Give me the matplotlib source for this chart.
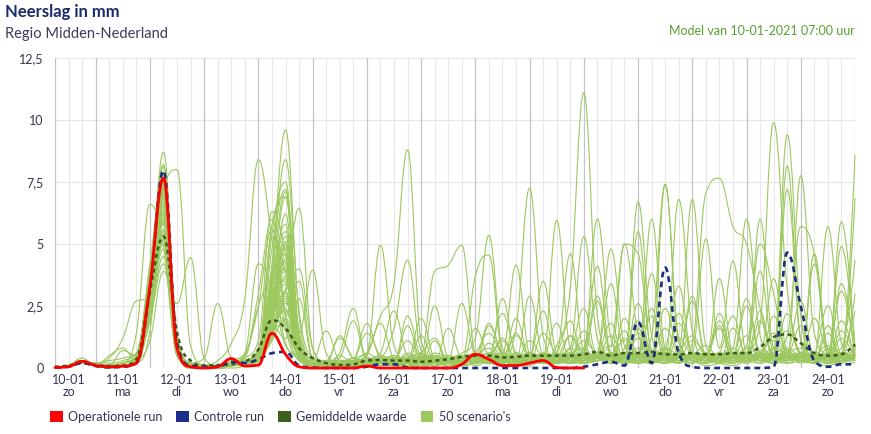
import matplotlib
matplotlib.use("Agg")
import matplotlib.pyplot as plt
from matplotlib.path import Path
from matplotlib.patches import PathPatch, Patch

plt.rcParams['font.family'] = ['Lato', 'DejaVu Sans']

# ---------------- data ----------------
hours = [6 + 6 * i for i in range(60)]          # hours after 10-01 00:00 (6-hourly steps)
day_dates = ["10-01", "11-01", "12-01", "13-01", "14-01", "15-01", "16-01", "17-01",
             "18-01", "19-01", "20-01", "21-01", "22-01", "23-01", "24-01"]
day_names = ["zo", "ma", "di", "wo", "do", "vr", "za", "zo", "ma", "di", "wo", "do", "vr", "za", "zo"]
yticks = [0, 2.5, 5, 7.5, 10, 12.5]
ytick_labels = ["0", "2,5", "5", "7,5", "10", "12,5"]

operational = [.02, .05, .27, .1, .05, .07, .2, 3.3, 7.65, .8,
               .05, 0, .05, .38, .08, .12, 1.4, .55, .05, 0,
               0, 0, 0, .08, 0, 0, 0, 0, 0, 0,
               .15, .55, .35, .1, .1, .2, .3, .02, 0, 0]

control = [.02, .05, .2, .08, .03, .05, .2, 3.2, 7.95, 1.0,
           .1, .05, .05, .25, .2, .35, .6, .65, .1, .02,
           0, 0, 0, .05, .15, .15, .02, 0, 0, 0,
           0, 0, 0, 0, 0, 0, 0, 0, 0, .05,
           .15, .25, .1, 1.85, .2, 4.05, .6, .05, 0, 0,
           0, 0, 0, .05, 4.65, 2.5, .3, .05, .15, .15]

mean = [.05, .1, .2, .12, .08, .1, .35, 3.1, 5.3, 1.45,
        .3, .1, .12, .15, .25, .75, 1.93, 1.6, .8, .4,
        .2, .12, .15, .3, .32, .3, .3, .25, .3, .35,
        .45, .5, .5, .42, .45, .5, .5, .5, .5, .55,
        .65, .5, .6, .6, .65, .55, .55, .6, .55, .55,
        .6, .6, .85, 1.25, 1.35, 1.0, .6, .5, .55, .95]

scenarios = [
 [0,.1,.3,.1,0,.1,.3,3.1,8.7,1.2, .1,0,0,.1,.3,.8,4.2,9.6,2.1,.3, .1,0,0,.2,.5,.3,.1,0,.2,.4, .3,.2,.5,.3,.1,.4,.2,.6,.3,.2, .5,.3,1.2,.4,.2,.8,.5,.3,.2,.4, .3,.2,.6,1.1,.4,.3,.2,.5,.3,.4],
 [0,.1,.2,.1,.1,.2,.5,3.8,6.9,.6, .1,0,.1,.2,.1,.4,2.8,5.1,.9,.2, 0,.1,.3,.1,.2,.1,0,.1,.3,.2, .1,.4,.2,.1,.3,.6,.4,.9,3.2,11.1, 2.1,.4,.3,.8,.5,.2,.6,1.3,.4,.2, .1,.3,.5,.2,.8,.4,.2,.1,.3,.6],
 [0,.1,.4,.1,.1,.1,.4,2.9,7.4,.9, 0,.1,0,.1,.2,.3,1.9,3.6,.5,.1, 0,0,.1,.6,2.1,3.4,8.8,1.1,.3,.2, .4,.1,.3,.5,.2,.1,.3,.2,.8,.4, .6,.9,.3,.2,.4,1.6,.5,.3,.1,.2, .5,.4,.3,.8,1.5,.6,.3,.4,.2,.9],
 [0,.1,.2,.2,.3,.4,.6,4.2,7.8,1.4, .2,.1,0,0,.1,.5,5.3,3.8,.6,.1, .1,.2,.4,.2,.1,.3,.2,.5,.3,.1, .2,.6,1.4,.5,.2,.3,.6,.2,.4,1.1, .5,.3,.8,1.9,.6,.4,.2,.5,.9,.3, .2,.6,1.8,9.9,3.2,.5,.3,.2,.6,.4],
 [0,.1,.3,.1,0,.2,.3,3.4,6.2,.7, 0,0,.1,.3,.6,2.5,5.6,2.0,.5,.2, .1,.1,.2,.4,.3,.2,.5,.3,.1,.2, .3,.5,.8,.4,1.6,7.25,1.3,.4,.6,.8, .3,.5,1.1,.6,.4,.3,1.2,.5,.3,.4, .6,.3,.2,.4,.7,.3,.5,.9,.4,.2],
 [0,.1,.2,.2,.4,1.2,2.7,2.8,5.9,1.0, .1,0,0,.1,.2,.3,2.4,4.1,.8,.2, .3,.1,.2,.6,.3,.4,.2,.1,.3,.5, .2,.3,.4,1.1,.3,.2,.5,.4,.2,.6, 6.0,1.2,.4,.3,.5,.8,.3,.6,.4,.2, .3,.5,.4,.2,.6,.8,.4,.3,.5,.7],
 [0,.1,.3,.1,.1,.2,1.4,6.6,4.9,.5, .1,.1,0,.2,.4,1.1,6.3,4.6,.5,.2, .1,0,.1,.2,.1,.3,.4,.2,.1,.3, .5,.4,.2,.3,.6,.3,.2,.4,1.3,.6, .4,.3,5.0,1.4,.6,.3,.2,.4,.3,.5, .8,.4,.6,.3,.2,.4,.3,.6,.5,.3],
 [0,.1,.2,.1,0,.1,.2,1.5,7.2,8.0, .9,.1,0,.1,.2,.4,2.2,1.8,.4,.1, 0,.2,.1,.3,.2,.1,.2,.4,.3,.2, .1,.2,.4,.3,.1,.2,.3,.5,.2,.4, .3,.6,.4,6.7,1.3,.4,.6,.3,.2,.5, .4,.3,.7,.5,.3,.4,.6,.2,.3,.5],
 [0,.1,.3,.1,.1,.1,.3,1.1,3.9,2.6, 4.45,.4,.1,.1,.2,.3,1.5,2.9,.6,.1, .1,.1,0,.2,.3,.2,.1,.3,.2,.1, .2,.3,.6,.4,.2,.5,.3,.2,.4,.3, .6,4.8,.9,.4,.3,.5,.2,.4,.3,.6, .2,.5,.3,.4,.6,.3,.2,.8,.5,.3],
 [0,.1,.2,.1,.1,.2,.4,2.6,6.5,.8, .2,.4,2.6,.4,.2,.5,3.4,5.5,1.0,.2, .1,0,.2,.1,.3,.4,.2,.1,.3,.5, .3,.2,.4,.3,.6,.4,.2,.3,.5,.4, .3,.5,.4,.6,.3,7.4,1.2,.4,.3,.2, .5,.6,.4,.3,.5,.2,.4,.3,.6,.4],
 [0,.1,.3,.1,.1,.1,.5,3.2,7.0,.9, .1,.1,.3,1.0,2.8,8.4,5.2,1.6,.3,.1, 0,.1,.2,.3,.2,.1,.3,.2,.1,.4, .2,.3,.2,.5,.3,.2,.4,.3,.2,.6, .4,.3,.6,.5,.4,.3,6.8,1.5,.4,.3, .2,.4,.6,.5,.3,.4,.2,.5,.3,.6],
 [0,.1,.2,.1,.1,.2,.3,2.8,7.6,1.1, .1,0,.1,.2,.3,.6,3.9,8.4,2.3,.4, .2,.1,.1,.2,.3,.2,.4,.6,.3,.2, .1,.2,.3,.2,.4,.5,.3,.2,.4,.3, .5,.4,.3,.6,.5,.4,.3,1.0,7.05,7.65, 5.7,5.0,2.4,.5,.3,.4,.6,.3,.2,.5],
 [0,.1,.3,.1,.1,.1,.3,3.0,6.0,.7, .1,.1,0,.1,.2,.4,1.6,3.2,6.45,.8, .2,.1,.3,.2,.1,.2,.3,.1,.2,.4, .3,.2,.5,.3,.2,.4,.3,.5,.2,.3, .4,.3,.2,.5,.4,.3,.6,6.8,.9,.3, .4,.2,.5,.3,.6,.4,.3,.2,.5,.4],
 [0,.1,.2,.1,.1,.2,.4,3.5,7.2,.8, .1,0,.1,.1,.2,.3,1.2,2.6,1.4,3.95, .6,.2,.1,.3,.2,.4,.2,.3,.5,.3, .2,.4,.3,.2,.5,.3,.6,.4,.3,.2, .5,.6,.4,.3,.6,.5,.4,.3,.6,.4, .3,.5,.4,.6,9.4,2.1,.4,.3,.5,.4],
 [0,.1,.3,.1,.1,.1,.2,2.3,5.6,.6, .1,.1,.1,.2,.1,.4,2.1,4.4,.7,.2, .3,.2,.4,.6,4.95,.9,.3,.2,.4,.2, .3,.2,.4,.3,.2,.6,.3,.2,.4,.3, .5,.3,.4,.6,.3,.5,.4,.3,.2,.6, .4,.3,6.0,.8,.4,.5,.3,.6,.4,.3],
 [0,.1,.2,.1,.1,.1,.3,2.7,6.8,.9, .1,0,.1,.2,.6,4.2,3.2,.9,.5,.1, .2,.1,.3,.2,.4,1.6,4.35,.7,.3,.2, .4,.3,.2,.5,.3,.2,.4,.6,.3,.2, .3,.5,.6,.4,.3,.2,.5,.4,.3,.6, .4,.8,.5,.3,8.15,1.2,.4,.3,.5,.4],
 [0,.1,.3,.1,.1,.2,.4,3.3,7.4,1.0, .2,.1,.1,.1,.2,.5,3.6,5.8,.8,.2, .1,.2,.1,.3,.2,.1,.3,.5,3.9,4.15, 4.95,.6,.3,.2,.4,.3,.5,.2,.3,.4, .6,.3,.5,.4,.2,.4,.3,.6,.5,.3, .2,.4,.3,.5,.6,.4,.3,.2,.4,.3],
 [0,.1,.2,.1,.1,.1,.3,3.6,7.9,1.3, .1,.1,0,.1,.2,.4,2.5,4.9,.7,.2, .1,0,.2,.3,.5,.2,.1,.3,.2,.4, .6,1.2,5.35,.8,.3,.2,.4,.3,.5,.2, .4,.3,.2,.5,.4,.6,.3,.4,.2,.5, .3,.6,.4,.3,7.2,1.1,.3,.5,.4,.6],
 [0,.1,.3,.1,.1,.2,.3,3.0,6.3,.6, .1,0,.1,.2,.1,.3,1.8,4.6,.9,.1, .2,.1,.3,.2,.1,.4,.2,.3,.5,.2, .3,3.7,4.55,.6,.2,.3,.5,.4,.2,.3, .5,.4,.6,.3,.5,.3,.4,.2,.6,.4, .3,.5,.4,.2,.3,7.75,1.4,.5,.3,.4],
 [0,.1,.2,.1,.1,.1,.2,2.5,5.2,.7, .1,.1,.1,.1,.2,.5,3.2,6.9,1.1,.2, .1,.2,.1,.4,.3,.2,.6,.3,.1,.3, .2,.4,.3,.5,4.15,.6,.4,5.95,.8,.3, .4,.2,.5,.3,.6,.4,.2,.5,.3,.4, .6,.3,.5,.4,.2,.3,.6,.4,5.9,.8],
 [0,.1,.3,.1,.1,.2,.5,3.9,7.1,.9, .1,0,0,.2,.3,.4,2.9,3.5,.6,.1, .1,.1,.2,.1,.3,.2,.4,.2,.3,.1, .3,.2,.4,.3,.2,.5,.3,.6,4.6,.7, .5,.4,.3,5.5,.6,.3,.5,.4,.2,.3, .4,.6,.3,.5,.4,.3,.5,.2,.4,8.6],
 [0,.1,.2,.1,.1,.1,.3,2.2,4.8,.5, .1,.1,.1,.2,.2,.3,1.4,2.4,.5,.1, .2,.3,.2,.1,.2,.4,.3,.2,.4,.3, .2,.3,.6,.4,.3,.2,.4,.3,.5,.4, .3,.6,.4,.2,.5,.6,.3,.5,.4,.3, .5,.4,.6,.3,.5,.4,.3,.6,.5,6.85],
 [0,.1,.3,.2,.2,.3,.6,4.0,7.5,1.1, .2,.1,0,.1,.1,.3,3.8,7.1,1.2,.2, .1,.2,.1,.2,.4,.3,.1,.2,.3,.2, .4,.3,.2,.4,.3,.6,.4,.3,.2,.5, .4,.3,.6,.4,1.3,7.4,1.0,.4,.3,.5, .3,.4,.2,.6,.4,.5,.3,.4,.6,.3],
 [0,.1,.2,.1,.1,.1,.3,3.2,6.6,.8, .1,.1,.1,.1,.2,.5,2.7,6.2,.9,.2, .2,.1,.3,.2,.3,.5,.2,.1,.3,.4, .3,.2,.4,.6,.3,.4,.2,.5,.8,5.3, 1.2,.4,.3,.5,.4,.6,.3,.2,.5,.4, .6,.3,.4,.8,.5,.3,.4,5.7,1.0,.4],
 [0,.1,.3,.1,.1,.2,.4,2.9,5.9,.6, .1,0,.1,.2,.3,.4,2.0,3.0,.4,.1, .1,.1,.2,.3,.2,.1,.3,.4,.2,.3, .5,.2,.3,.2,.4,.3,.5,.3,.4,.8, 4.1,.6,.4,.5,6.0,.8,.3,.4,.6,.3, .2,.5,.4,.3,.6,.4,4.6,.7,.3,.5],
 [0,.1,.2,.1,.1,.1,.2,2.0,4.5,.5, .1,.1,.1,.1,.2,.3,1.7,5.0,1.0,.2, .2,.1,.1,.3,.2,.4,.3,.2,.5,.3, .2,.4,.3,.5,.3,.2,.4,.3,.2,.4, .6,.9,5.0,4.6,.7,.3,.5,.4,.3,.6, .4,.3,.6,.4,.3,.5,.4,.3,4.9,.7],
 [0,.1,.3,.1,.1,.1,.3,3.3,6.7,.7, .1,.1,0,.2,.2,.4,2.3,3.9,.6,.2, .1,.2,.1,.2,.3,.2,.4,.3,.1,.2, .3,.2,.5,.3,.2,.4,.3,.2,.6,.4, .3,.5,.4,.3,.5,.4,.3,.6,5.2,.8, 4.3,.6,.4,.3,.5,.3,.6,.4,.3,.5],
 [0,.1,.2,.1,.1,.2,.4,3.7,8.2,1.2, .2,.1,.1,.1,.2,.5,4.8,7.2,1.5,.3, .1,.1,.2,.3,.2,.3,.2,.4,.3,.2, .4,.3,.2,.3,.5,.2,.4,.3,.2,.5, .3,.4,.6,.3,.4,.5,.3,.4,.6,.5, .8,6.0,1.3,.5,.4,.6,.3,.5,.4,.3],
 [0,.1,.3,.1,.1,.1,.3,2.4,5.4,.6, .1,0,.1,.2,.1,.3,1.3,2.7,.4,.1, .2,.3,.2,.1,.3,.4,.2,.3,.2,.4, .3,.5,.2,.4,.3,.5,.2,.3,.4,.2, .5,.3,.4,.6,.3,.2,.5,.3,.4,.6, .5,.9,5.0,3.0,.6,.4,.3,.5,.6,.4],
 [0,.1,.2,.1,.1,.2,.4,3.1,7.0,.9, .1,.1,0,.1,.2,.4,3.3,4.2,.6,.2, .1,.2,.3,.2,.1,.2,.3,.6,.2,.3, .2,.4,.3,.2,.6,.3,.2,.5,.3,.4, .5,.4,.3,.2,.6,.5,.4,.3,.5,.3, .4,.3,.5,.6,1.3,5.7,4.6,.8,.4,.5],
 [0,.1,.3,.1,.1,.1,.2,2.6,6.1,.7, .1,0,.1,.1,.2,.5,2.6,4.8,.7,.1, .1,.1,.2,.4,.3,.2,.1,.3,.4,.2, .3,.2,.4,.3,.2,.3,.5,.4,.3,.6, .3,.5,.2,.4,.3,.6,.4,.5,.3,.4, .6,.4,.3,.5,.4,.3,.5,.6,.8,4.35],
 [0,.1,.2,.1,.5,.8,.3,3.4,7.7,1.0, .1,.1,.1,.2,.3,.7,5.8,6.9,1.3,.3, 1.5,.3,.2,.5,1.8,.4,.2,.6,1.2,.3, .5,.2,1.7,.6,.3,1.1,.4,.2,.6,2.4, .5,1.3,.4,2.6,.5,.3,1.8,.6,.4,2.2, .5,.3,1.9,.4,.6,2.7,.4,.3,1.5,.5],
 [0,.1,.3,.1,.1,.2,.4,2.8,6.4,.8, .1,0,.1,.1,.2,.5,1.7,1.2,2.8,.4, .3,1.2,.4,.2,.6,2.3,.5,.3,.2,1.6, .4,.3,.5,2.2,.6,.3,1.4,.5,.2,.6, 2.9,.5,.3,1.6,.4,.8,3.3,.5,.3,.6, 2.1,.4,.5,3.6,.7,.4,.6,2.5,.5,.3],
 [0,.1,.2,.1,.1,.1,.3,3.0,7.3,.9, .1,.1,0,.1,.2,.4,2.8,5.3,.8,.1, .2,.4,1.9,.3,.2,.3,1.1,.4,.5,.3, 2.6,.5,.3,.4,1.3,.5,.3,.6,1.9,.4, .6,3.4,.5,.3,2.4,.5,.4,1.1,.6,.3, .5,2.8,.6,.4,.5,1.7,.4,.6,3.1,.5],
 [0,.1,.3,.1,.1,.1,.2,2.1,5.1,.6, .1,.1,.1,.1,.4,2.5,3.5,1.0,.4,.1, .2,.1,.3,1.4,.5,.2,.3,2.0,.4,.2, .5,.3,1.0,.4,.3,2.9,.5,.3,.4,1.5, .4,.3,2.0,.5,.4,.6,.5,2.7,.4,.3, 1.6,.5,.3,.4,2.2,.5,.3,.4,.6,2.3],
 [0,.1,.2,.1,.1,.7,.5,3.8,7.0,1.0, .1,0,.1,.2,.5,3.0,6.0,2.2,.6,.2, .1,.5,.2,.3,.4,.3,.2,.3,.6,.4, .3,.5,.4,.3,.2,.4,3.5,.6,.3,.5, .4,.6,.3,.5,3.8,.6,.3,.5,.4,1.9, .5,.3,.6,.5,.4,.3,4.2,.5,.4,.3],
 [0,.1,.3,.1,.1,.1,.3,2.7,5.9,.7, .1,.1,0,.1,.2,.5,2.1,1.5,.3,.1, .2,.3,.1,.2,.3,.5,.2,.4,.3,.2, .4,.6,.3,2.8,.5,.3,.4,.3,.5,.4, .5,.3,.6,.4,.3,.5,.4,.6,.3,3.6, .6,.4,.3,.2,.6,.4,.5,.3,3.4,.6],
 [0,.1,.2,.1,.1,.1,.2,2.5,6.0,.8, .1,.1,.1,.2,.2,.4,3.0,4.0,.6,.2, .3,.2,.1,.3,.2,.4,.3,.2,2.5,.4, .2,.3,.4,.3,.2,.3,.6,.4,.3,.5, .3,.4,.5,.6,.4,.3,.5,.4,.6,.3, .5,.6,3.9,.6,.4,.5,.3,.4,.5,.3],
 [0,.1,.3,.1,.1,.2,.4,3.5,7.5,1.0, .1,0,0,.1,.2,.3,1.9,3.4,.6,.2, .1,.2,.3,.2,.1,.2,.4,.3,.2,.3, .4,.3,.2,.4,.3,.6,.4,.3,.2,.4, 2.7,.5,.3,.4,.6,.3,.4,.5,.3,.4, .6,.3,.4,.5,.3,.6,.4,.5,.3,3.0],
 [0,.1,.2,.1,.1,.1,.3,3.1,6.6,.9, .1,.1,.1,.1,.2,.6,1.5,2.0,3.5,.4, .2,1.3,.4,.3,.4,.2,2.1,.5,.4,.3, .3,.2,.3,.6,.3,.2,.3,.5,.4,.2, .5,1.8,.2,.3,.5,2.4,.6,.3,.4,1.6, .3,.4,2.3,.3,.6,.4,.3,1.7,.4,.6],
 [0,.1,.3,.1,.1,.2,.3,2.9,6.3,.8, .1,0,.1,.2,.3,.4,2.4,4.3,.7,.2, .1,.2,.2,.1,.3,.4,.2,.5,.3,.2, .2,1.6,.5,.3,2.0,.4,.3,.2,1.3,.3, .4,.2,.4,.5,.3,.6,.4,.3,.5,.3, .4,.6,.3,2.1,.5,.3,.6,.4,1.9,.4],
 [0,.1,.2,.1,.1,.1,.2,1.9,4.2,.5, .1,.1,.1,.1,.1,.3,1.1,2.0,.4,.1, .1,.1,.3,1.8,.4,.3,.4,.2,1.1,.2, .4,.3,.2,.3,.4,.2,.5,.3,.4,.3, .3,.5,1.5,.2,.4,.3,2.2,.6,.3,.4, .5,.3,.4,.6,.3,.5,.4,.3,.6,.4],
 [0,.1,.3,.1,.1,.2,.4,3.6,7.6,1.1, .2,.1,0,.1,.2,.5,3.5,4.6,.8,.2, .3,.1,.2,.4,.3,.2,1.7,.3,.2,.4, .2,.3,.4,.2,1.4,.3,.2,.4,.6,.3, .5,.3,.4,1.2,.3,.4,.2,.5,.3,.6, .4,1.3,.3,.4,.5,.6,.3,1.4,.4,.5],
 [0,.1,.2,.1,.1,.1,.3,2.3,5.5,.7, .1,.1,.1,.2,.2,.4,2.2,3.7,.5,.1, .1,.3,.2,.1,.4,.3,.2,.4,.3,.2, .3,.4,1.8,.5,.2,.4,2.3,.3,.2,.5, .4,.6,.3,1.4,.5,.2,.4,2.9,.5,.4, .3,.5,.4,.3,.4,.5,.3,.6,.4,.5],
 [0,.1,.3,.1,.1,.1,.3,3.2,6.9,.9, .1,0,.1,.1,.3,.6,2.4,3.1,4.0,.8, .2,.1,.1,.2,.3,.2,.3,.4,.2,.3, .1,.2,.3,.4,.3,.2,.4,.3,.6,.4, .3,.4,.5,.3,.6,.4,.3,.5,.4,.2, .6,.4,.3,.5,.3,.6,.5,.4,.3,.5],
 [0,.1,.2,.1,.1,.2,.3,2.6,5.8,.6, .1,.1,0,.1,.2,.3,1.6,3.1,.5,.1, .2,.6,2.4,.3,.2,.4,.3,1.3,.3,.4, .3,.2,.4,.3,.5,.3,.2,.4,.3,.6, .4,.3,.6,.4,.3,.5,.4,.2,.6,.3, .5,.3,.6,1.4,.5,.3,2.0,.6,.3,.4],
 [0,.1,.3,.1,.1,.1,.4,3.9,8.1,1.2, .2,.1,.1,.2,.3,.5,5.4,7.5,1.4,.3, .1,.2,.3,.2,.3,.1,.2,.3,.4,.2, .3,.2,.3,.2,.4,.3,.5,.3,.2,.4, .5,.4,.3,.6,.4,.3,.5,.4,.3,.5, .3,.6,.4,.5,.3,.4,.6,.3,.5,.4],
 [0,.1,.2,.1,.1,.1,.3,2.9,6.2,.8, .1,0,.1,.1,.2,.4,2.0,2.8,.4,.1, .1,.1,.2,.3,.2,.3,.4,.2,.3,.1, .2,.3,.2,.4,.3,.5,.3,.4,.2,.3, .4,.2,.3,.5,2.1,.3,.6,.4,.5,1.7, .4,.5,.3,.4,.6,.3,.5,.4,.6,.3],
 [0,.1,.3,.1,.1,.2,.3,3.3,7.1,.9, .1,.1,0,.1,.2,.3,2.6,4.0,.6,.2, .2,.1,.1,.2,.3,.4,.2,.3,.5,.3, .4,.3,.2,.3,.5,.4,.2,.3,.4,.5, .3,.4,.6,.3,.2,.4,.5,.3,.4,.6, .3,.4,.5,.3,.4,.6,.3,.5,.4,.3],
 [0,.1,.2,.1,.1,.1,.2,2.4,5.0,.6, .1,.1,.1,.2,.1,.4,1.5,2.3,.4,.1, .1,.2,.1,.3,.2,.3,.1,.2,.3,.4, .2,.3,.4,1.2,.3,.2,.4,1.8,.3,.2, .3,.5,.4,.2,.3,.5,.3,.4,.3,.5, .4,2.5,.5,.4,.3,.6,.4,.3,1.2,.4],
]

# ---------------- colours ----------------
C_OPER = "#ff0000"
C_CTRL = "#1b2d7f"
C_MEAN = "#3b5a1c"
C_SCEN = "#9dc85f"
C_TEXT = "#34364f"


def spline_path(xs, ys):
    """Highcharts-style smooth spline through the data points (Bezier path)."""
    n = len(xs)
    sm, den = 1.5, 2.5
    lc = [None] * n
    rc = [None] * n
    for i in range(n):
        x, y = xs[i], ys[i]
        if 0 < i < n - 1:
            px, py = xs[i - 1], ys[i - 1]
            nx, ny = xs[i + 1], ys[i + 1]
            lcx, lcy = (sm * x + px) / den, (sm * y + py) / den
            rcx, rcy = (sm * x + nx) / den, (sm * y + ny) / den
            corr = ((rcy - lcy) * (rcx - x)) / (rcx - lcx) + y - rcy
            lcy += corr
            rcy += corr
            if lcy > py and lcy > y:
                lcy = max(py, y); rcy = 2 * y - lcy
            elif lcy < py and lcy < y:
                lcy = min(py, y); rcy = 2 * y - lcy
            if rcy > ny and rcy > y:
                rcy = max(ny, y); lcy = 2 * y - rcy
            elif rcy < ny and rcy < y:
                rcy = min(ny, y); lcy = 2 * y - rcy
            lc[i] = (lcx, lcy)
            rc[i] = (rcx, rcy)
        else:
            lc[i] = (x, y)
            rc[i] = (x, y)
    verts = [(xs[0], ys[0])]
    codes = [Path.MOVETO]
    for i in range(1, n):
        verts += [rc[i - 1], lc[i], (xs[i], ys[i])]
        codes += [Path.CURVE4] * 3
    return Path(verts, codes)


def draw(ax, xs, ys, **kw):
    p = PathPatch(spline_path(xs, ys), fill=False, clip_on=False, **kw)
    ax.add_patch(p)


W, H = 871, 434
fig = plt.figure(figsize=(W / 100, H / 100), dpi=100)
ax = fig.add_axes([55 / W, (H - 368) / H, 800 / W, 310 / H])
ax.set_xlim(hours[0], hours[-1])
ax.set_ylim(0, 12.5)

# grid
for yv in yticks:
    ax.axhline(yv, color="#e6e6e6", lw=0.8, zorder=0)
for h in range(hours[0], hours[-1] + 1, 6):
    if h % 24 == 0:
        ax.axvline(h, color="#c4c4c4", lw=0.9, zorder=0.5)
    else:
        ax.axvline(h, color="#e8e8e8", lw=0.8, zorder=0.2)
ax.axvline(hours[0], color="#c4c4c4", lw=0.9, zorder=0.5)

for s in ax.spines.values():
    s.set_visible(False)

# series
for sc in scenarios:
    draw(ax, hours, sc, edgecolor=C_SCEN, lw=0.8, zorder=2)
draw(ax, hours, mean, edgecolor=C_MEAN, lw=1.8, linestyle=(0, (1.6, 1.4)), zorder=3)
draw(ax, hours, control, edgecolor=C_CTRL, lw=1.9, linestyle=(0, (2.2, 1.6)), zorder=4)
draw(ax, hours[:len(operational)], operational, edgecolor=C_OPER, lw=2.0,
     capstyle="round", joinstyle="round", zorder=5)

# axes ticks
ax.set_yticks(yticks)
ax.set_yticklabels(ytick_labels)
xt = [12 + 24 * k for k in range(len(day_dates))]
ax.set_xticks(xt)
ax.set_xticklabels([f"{d}\n{n}" for d, n in zip(day_dates, day_names)], linespacing=1.05)
ax.tick_params(axis="both", length=0, labelsize=9, labelcolor=C_TEXT)
ax.tick_params(axis="y", pad=8)
ax.tick_params(axis="x", pad=4)

# titles
fig.text(5 / W, 1 - 12 / H, "Neerslag in mm", fontsize=12, fontweight="bold",
         color="#1b2a6b", va="center", ha="left")
fig.text(5 / W, 1 - 34 / H, "Regio Midden-Nederland", fontsize=10.5,
         color="#3a3c58", va="center", ha="left")
fig.text(855 / W, 1 - 31 / H, "Model van 10-01-2021 07:00 uur", fontsize=9,
         color="#58a02e", va="center", ha="right")

# legend
handles = [Patch(facecolor=C_OPER, edgecolor="none", label="Operationele run"),
           Patch(facecolor="#1a2f8c", edgecolor="none", label="Controle run"),
           Patch(facecolor="#3f5f1f", edgecolor="none", label="Gemiddelde waarde"),
           Patch(facecolor=C_SCEN, edgecolor="none", label="50 scenario's")]
leg = fig.legend(handles=handles, loc="center left", bbox_to_anchor=(50 / W, 1 - 417 / H),
                 ncol=4, frameon=False, fontsize=9, handlelength=1.0, handleheight=1.0,
                 handletextpad=0.45, columnspacing=1.1, borderpad=0, borderaxespad=0)
for t in leg.get_texts():
    t.set_color(C_TEXT)

fig.savefig("out.png", dpi=100)
